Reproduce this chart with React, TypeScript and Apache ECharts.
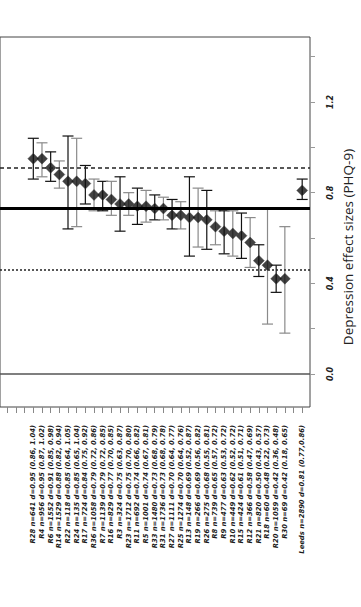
import React, { useEffect, useRef } from 'react';
import * as echarts from 'echarts';

// Per-site depression outcomes (PHQ-9): pre-post effect size d with 95% CI
const sites = ['R28', 'R4', 'R6', 'R14', 'R22', 'R24', 'R17', 'R36', 'R7', 'R16', 'R3', 'R23', 'R11', 'R5', 'R33', 'R31', 'R27', 'R25', 'R13', 'R19', 'R26', 'R8', 'R9', 'R10', 'R15', 'R12', 'R21', 'R18', 'R20', 'R30', 'Leeds'];
const sampleSizes = [641, 956, 1552, 1529, 118, 135, 724, 1058, 1139, 829, 324, 1712, 692, 1001, 1480, 1736, 1111, 1274, 148, 266, 275, 739, 477, 449, 424, 366, 820, 60, 1059, 69, 2890];
const effectSizes = [0.95, 0.95, 0.91, 0.88, 0.85, 0.85, 0.84, 0.79, 0.79, 0.77, 0.75, 0.75, 0.74, 0.74, 0.73, 0.73, 0.70, 0.70, 0.69, 0.69, 0.68, 0.65, 0.63, 0.62, 0.61, 0.58, 0.50, 0.48, 0.42, 0.42, 0.81];
const ciLower = [0.86, 0.87, 0.85, 0.82, 0.64, 0.65, 0.75, 0.72, 0.72, 0.70, 0.63, 0.70, 0.66, 0.67, 0.68, 0.68, 0.64, 0.64, 0.52, 0.56, 0.55, 0.57, 0.53, 0.52, 0.51, 0.47, 0.43, 0.22, 0.36, 0.18, 0.77];
const ciUpper = [1.04, 1.02, 0.98, 0.94, 1.05, 1.04, 0.92, 0.86, 0.85, 0.85, 0.87, 0.80, 0.82, 0.81, 0.79, 0.78, 0.77, 0.76, 0.87, 0.82, 0.81, 0.72, 0.72, 0.72, 0.71, 0.69, 0.57, 0.73, 0.48, 0.65, 0.86];

// Benchmark lines on the effect-size scale
const meanBenchmark = 0.73;
const upperBenchmark = 0.91;
const lowerBenchmark = 0.46;

const valueTicks = [0, 0.2, 0.4, 0.6, 0.8, 1.0, 1.2, 1.4];
const valueTickLabels = [0, 0.4, 0.8, 1.2];

const TOTAL = 'Leeds';

// The pooled row sits one empty slot after the last site
const slotOf = (i: number) => (sites[i] === TOTAL ? i + 1 : i);
const slots = sites.map((_, i) => slotOf(i));
const fmt = (v: number) => v.toFixed(2);
const rowLabels = sites.map((s, i) =>
  `${s} n=${sampleSizes[i]} d=${fmt(effectSizes[i])} (${fmt(ciLower[i])},${s === TOTAL ? '' : ' '}${fmt(ciUpper[i])})`
);
const labelBySlot: Record<number, string> = {};
slots.forEach((p, i) => { labelBySlot[p] = rowLabels[i]; });
const slotTicks: number[] = [];
for (let p = -3; p <= slots[slots.length - 1]; p++) slotTicks.push(p);

const barColor = (i: number) => (sites[i] === TOTAL ? '#111' : i % 2 === 0 ? '#111' : '#8a8a8a');

export default function App() {
  const ref = useRef<HTMLDivElement>(null);

  useEffect(() => {
    if (!ref.current) return;
    const chart = echarts.init(ref.current, null, { renderer: 'svg' });

    const option: echarts.EChartsOption = {
      animation: false,
      backgroundColor: '#fff',
      grid: { left: 0, right: 51, top: 37, bottom: 200, show: true, borderColor: '#444', borderWidth: 1 },
      xAxis: {
        type: 'value',
        min: -3.84,
        max: 31.9,
        splitLine: { show: false },
        axisLine: { show: false, onZero: false },
        axisTick: { show: true, customValues: slotTicks, length: 6, lineStyle: { color: '#888', width: 1 } },
        axisLabel: {
          customValues: slots,
          rotate: 90,
          margin: 18,
          formatter: (v: number) => labelBySlot[Math.round(v)] ?? '',
          fontFamily: 'DejaVu Sans',
          fontSize: 6.8,
          fontWeight: 'bold',
          fontStyle: 'italic',
          color: '#1a1a1a',
        },
      },
      yAxis: {
        type: 'value',
        position: 'right',
        min: -0.146,
        max: 1.487,
        splitLine: { show: false },
        axisLine: { show: false, onZero: false },
        axisTick: { show: true, customValues: valueTicks, length: 5, lineStyle: { color: '#999', width: 1 } },
        axisLabel: {
          customValues: valueTickLabels,
          rotate: 90,
          margin: 16,
          formatter: (v: number) => v.toFixed(1),
          fontFamily: 'DejaVu Sans',
          fontSize: 8,
          fontWeight: 'bold',
          fontStyle: 'italic',
          color: '#222',
        },
      },
      graphic: [
        {
          type: 'text',
          x: 348,
          y: 247,
          rotation: Math.PI / 2,
          style: {
            text: 'Depression effect sizes (PHQ-9)',
            font: '13.5px "Open Sans"',
            fill: '#222',
            align: 'center',
            verticalAlign: 'middle',
          },
        },
      ],
      series: [
        {
          type: 'line',
          data: [],
          markLine: {
            silent: true,
            symbol: 'none',
            label: { show: false },
            data: [
              { yAxis: 0, lineStyle: { color: '#555', width: 1.5, type: 'solid' } },
              { yAxis: meanBenchmark, lineStyle: { color: '#000', width: 3, type: 'solid' } },
              { yAxis: upperBenchmark, lineStyle: { color: '#222', width: 1.5, type: [4, 3] } },
              { yAxis: lowerBenchmark, lineStyle: { color: '#222', width: 1.5, type: [2, 2] } },
            ],
          },
        },
        {
          type: 'custom',
          data: sites.map((_, i) => [slots[i], ciLower[i], ciUpper[i]]),
          encode: { x: 0, y: [1, 2] },
          renderItem: (params: any, api: any) => {
            const x = api.value(0);
            const lo = api.coord([x, api.value(1)]);
            const hi = api.coord([x, api.value(2)]);
            const half = 5.5;
            const stroke = barColor(params.dataIndex);
            const style = { stroke, lineWidth: 1.2 };
            return {
              type: 'group',
              children: [
                { type: 'line', shape: { x1: lo[0], y1: lo[1], x2: hi[0], y2: hi[1] }, style },
                { type: 'line', shape: { x1: lo[0] - half, y1: lo[1], x2: lo[0] + half, y2: lo[1] }, style },
                { type: 'line', shape: { x1: hi[0] - half, y1: hi[1], x2: hi[0] + half, y2: hi[1] }, style },
              ],
            };
          },
          z: 3,
        },
        {
          type: 'scatter',
          data: sites.map((_, i) => [slots[i], effectSizes[i]]),
          symbol: 'diamond',
          symbolSize: [11, 11],
          itemStyle: { color: '#111', borderColor: '#444', borderWidth: 0.5 },
          z: 4,
        },
      ],
    };

    chart.setOption(option);
    return () => chart.dispose();
  }, []);

  return <div ref={ref} style={{ position: 'absolute', left: 0, top: 0, width: 361, height: 607 }} />;
}
